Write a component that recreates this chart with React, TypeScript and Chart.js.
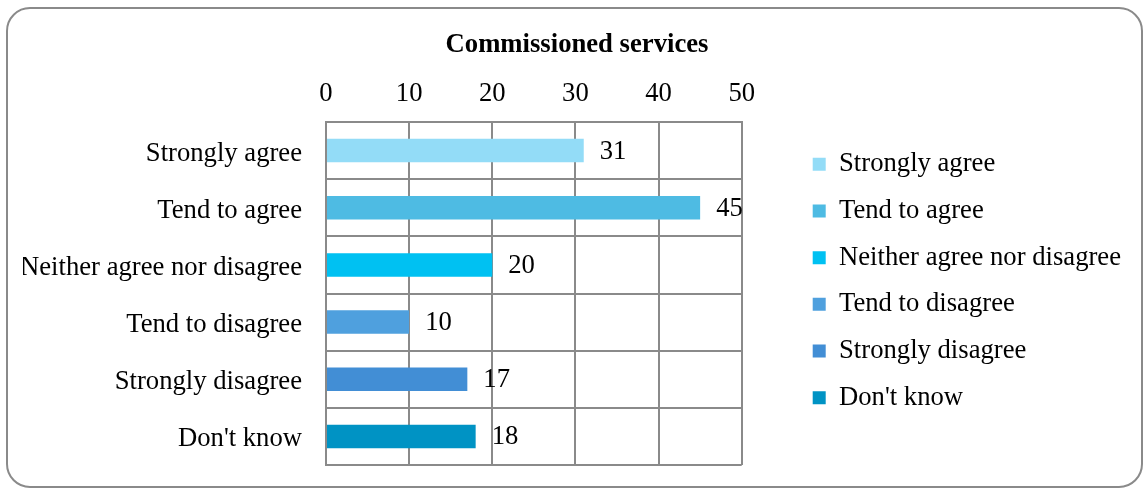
import React, { useEffect, useRef } from "react";
import { Chart, registerables } from "chart.js";

Chart.register(...registerables);

const TITLE = "Commissioned services";
const categories = [
  "Strongly agree",
  "Tend to agree",
  "Neither agree nor disagree",
  "Tend to disagree",
  "Strongly disagree",
  "Don't know",
];
const values = [31, 45, 20, 10, 17, 18];
const barColors = ["#93DCF7", "#4EBBE3", "#00C1F2", "#4FA0DE", "#428ED5", "#0093C4"];
const xMin = 0;
const xMax = 50;
const xStep = 10;

const FONT = "'Liberation Serif', 'Times New Roman', serif";
const FS = 26.67;
const GRID = "#8a8a8a";

const valueLabels = {
  id: "valueLabels",
  afterDatasetsDraw(chart: any) {
    const ctx = chart.ctx;
    const meta = chart.getDatasetMeta(0);
    ctx.save();
    ctx.font = `${FS}px ${FONT}`;
    ctx.fillStyle = "#000";
    ctx.textAlign = "left";
    ctx.textBaseline = "middle";
    meta.data.forEach((bar: any, i: number) => {
      ctx.fillText(String(values[i]), bar.x + 16, bar.y + 1);
    });
    ctx.restore();
  },
};

export default function App() {
  const ref = useRef<HTMLCanvasElement>(null);
  useEffect(() => {
    if (!ref.current) return;
    const chart = new Chart(ref.current, {
      type: "bar",
      data: {
        labels: categories,
        datasets: [
          {
            data: values,
            backgroundColor: barColors,
            borderWidth: 0,
            barPercentage: 0.82,
            categoryPercentage: 0.5,
          },
        ],
      },
      options: {
        indexAxis: "y",
        responsive: false,
        maintainAspectRatio: false,
        animation: false,
        events: [],
        layout: { padding: { top: 11, left: 23, right: 15, bottom: 23 } },
        scales: {
          x: {
            position: "top",
            min: xMin,
            max: xMax,
            ticks: {
              stepSize: xStep,
              color: "#000",
              font: { family: FONT, size: FS },
              padding: 12,
            },
            grid: { color: GRID, lineWidth: 2, drawTicks: false },
            border: { display: true, color: GRID, width: 2 },
            afterFit: (s: any) => {
              s.height = 51;
            },
          },
          y: {
            ticks: {
              color: "#000",
              font: { family: FONT, size: FS },
              padding: 24,
              labelOffset: 3,
            },
            grid: { color: GRID, lineWidth: 2, drawTicks: false, offset: true },
            border: { display: true, color: GRID, width: 2 },
            afterFit: (s: any) => {
              s.width = 303;
              s.paddingTop = 0;
              s.paddingBottom = 0;
            },
          },
          y2: {
            position: "right",
            display: true,
            ticks: { display: false },
            grid: { display: false, drawTicks: false },
            border: { display: false },
            afterFit: (s: any) => {
              s.width = 51;
              s.paddingTop = 0;
              s.paddingBottom = 0;
            },
          },
        },
        plugins: {
          title: {
            display: true,
            text: TITLE,
            color: "#000",
            font: { family: FONT, size: FS, weight: "bold", lineHeight: 1.2 },
            padding: { top: 18, bottom: 10 },
          },
          legend: {
            position: "right",
            align: "start",
            fullSize: false,
            maxWidth: 500,
            onClick: () => {},
            title: {
              display: true,
              text: "",
              font: { size: 1, lineHeight: 1 },
              padding: { top: 4, bottom: 4 },
            },
            labels: {
              color: "#000",
              font: { family: FONT, size: FS },
              boxWidth: 13,
              boxHeight: 13,
              padding: 20,
              generateLabels: () =>
                categories.map((c, i) => ({
                  text: c,
                  fillStyle: barColors[i],
                  strokeStyle: barColors[i],
                  lineWidth: 0,
                  hidden: false,
                  index: i,
                  fontColor: "#000",
                })),
            },
          },
          tooltip: { enabled: false },
        },
      },
      plugins: [valueLabels],
    } as any);
    return () => chart.destroy();
  }, []);

  return (
    <div
      style={{
        position: "fixed",
        left: 0,
        top: 0,
        width: 1146,
        height: 488,
        background: "#fff",
        overflow: "hidden",
      }}
    >
      <div
        style={{
          position: "absolute",
          left: 6,
          top: 7,
          width: 1133,
          height: 477,
          border: "2px solid #8a8a8a",
          borderRadius: 24,
          boxSizing: "content-box",
        }}
      />
      <canvas
        ref={ref}
        width={1146}
        height={488}
        style={{ position: "absolute", left: 0, top: 0 }}
      />
    </div>
  );
}
